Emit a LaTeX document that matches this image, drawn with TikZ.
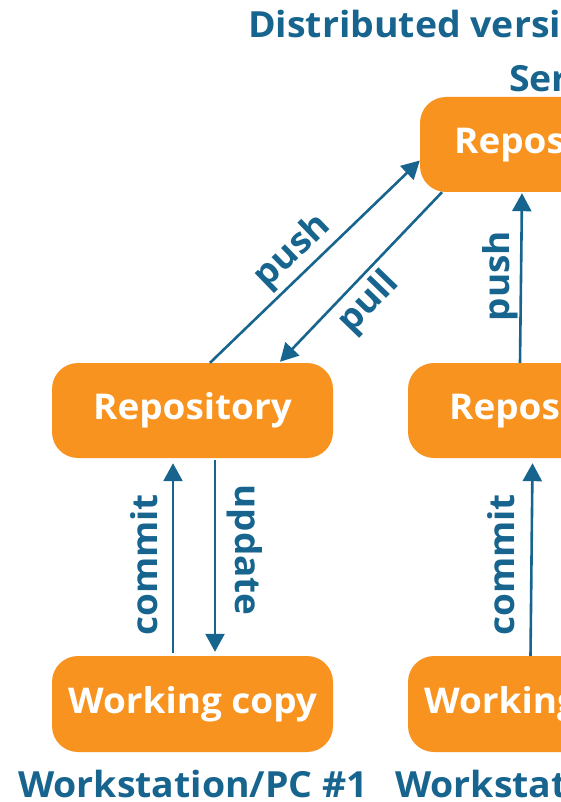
\documentclass[tikz,border=0pt]{standalone}
\usepackage{fontspec}
\setmainfont{Open Sans}[FakeStretch=1.04]
\usetikzlibrary{arrows.meta}
\definecolor{boxorange}{HTML}{F7931E}
\definecolor{inkblue}{HTML}{17658F}
\tikzset{
  repobox/.style={draw=none, fill=boxorange, rounded corners=26pt, minimum height=95pt,
    inner sep=0pt, text=white, font=\fontsize{35.5}{35.5}\selectfont\bfseries},
  flow/.style={draw=inkblue, line width=2.6pt, -{Triangle[length=18pt,width=19pt]}},
  lbl/.style={text=inkblue, inner sep=0pt, font=\fontsize{35.5}{35.5}\selectfont\bfseries},
  heading/.style={text=inkblue, inner sep=0pt, font=\fontsize{36}{36}\selectfont\bfseries}
}
\begin{document}
\begin{tikzpicture}[x=1pt,y=-1pt]
\useasboundingbox (0,0) rectangle (561,802);
\clip (0,0) rectangle (561,802);
% titles
\node[heading, anchor=base west] (title) at (248,38) {Distributed version control};
\node[heading, anchor=base west] (server) at (509,92) {Server};
% boxes
\node[repobox, minimum width=267pt] (srv) at (553.5,144.5) {Repository};
\node[repobox, minimum width=281pt] (repoA) at (192.5,410.5) {Repository};
\node[repobox, minimum width=281pt] (repoB) at (548.5,410.5) {Repository};
\node[repobox, minimum width=281pt, minimum height=96pt] (wcA) at (192.5,704) {Working copy};
\node[repobox, minimum width=281pt, minimum height=96pt] (wcB) at (548.5,704) {Working copy};
% bottom labels
\node[heading, anchor=base west] (wsA) at (18,797) {Workstation/PC \#1};
\node[heading, anchor=base west] (wsB) at (395,797) {Workstation/PC \#2};
% connector end points
\coordinate (pushAs) at ([xshift=17.5pt]repoA.north);
\coordinate (pushAe) at ([yshift=-16pt]srv.west);
\coordinate (pullAs) at ([xshift=-111.5pt]srv.south);
\coordinate (pullAe) at ([xshift=87.5pt,yshift=1pt]repoA.north);
\coordinate (pushBs) at ([xshift=-28.5pt]repoB.north);
\coordinate (pushBe) at ([xshift=-31.5pt,yshift=-1pt]srv.south);
\coordinate (comAs) at ([xshift=-19.5pt,yshift=3pt]wcA.north);
\coordinate (comAe) at ([xshift=-19.5pt,yshift=-5pt]repoA.south);
\coordinate (updAs) at ([xshift=22.5pt,yshift=-2pt]repoA.south);
\coordinate (updAe) at ([xshift=22.5pt,yshift=4pt]wcA.north);
\coordinate (comBs) at ([xshift=-18pt,yshift=0pt]wcB.north);
\coordinate (comBe) at ([xshift=-16pt,yshift=-5pt]repoB.south);
% connectors
\draw[flow] (pushAs) -- (pushAe);
\draw[flow] (pullAs) -- (pullAe);
\draw[flow] (pushBs) -- (pushBe);
\draw[flow] (comAs) -- (comAe);
\draw[flow] (updAs) -- (updAe);
\draw[flow] (comBs) -- (comBe);
% connector labels
\node[lbl, rotate=44] (lpushA) at (293,252) {push};
\node[lbl, rotate=46] (lpullA) at (369,303) {pull};
\node[lbl, rotate=90] (lpushB) at (500,276) {push};
\node[lbl, rotate=90] (lcomA) at (144,565) {commit};
\node[lbl, rotate=-90] (lupdA) at (245,550) {update};
\node[lbl, rotate=90] (lcomB) at (501,565) {commit};
\end{tikzpicture}
\end{document}
